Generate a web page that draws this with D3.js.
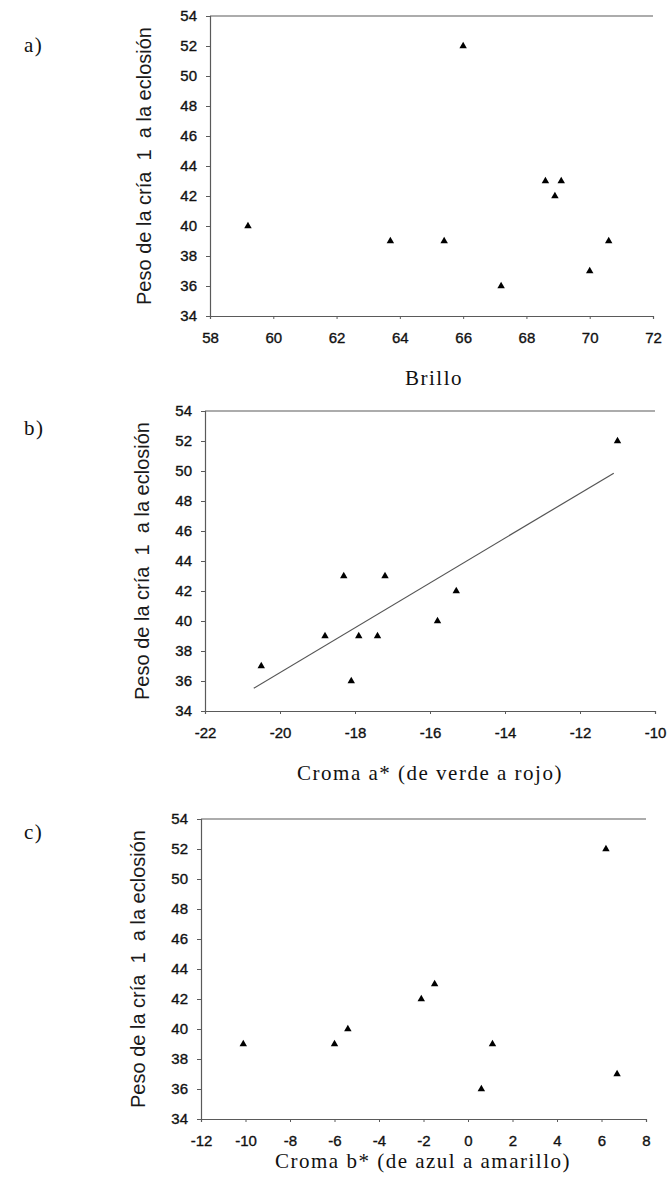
<!DOCTYPE html>
<html>
<head>
<meta charset="utf-8">
<script src="https://cdn.jsdelivr.net/npm/d3@7"></script>
<style>
  html, body { margin: 0; padding: 0; background: #fff; }
  svg { display: block; }
</style>
</head>
<body>
<script>
// ---------- data ----------
const yTicks = [34, 36, 38, 40, 42, 44, 46, 48, 50, 52, 54];

const aTicks = [58, 60, 62, 64, 66, 68, 70, 72];
const aX = [59.2, 63.7, 65.4, 66.0, 67.2, 68.6, 69.1, 68.9, 70.0, 70.6];
const aY = [40, 39, 39, 52, 36, 43, 43, 42, 37, 39];

const bTicks = [-22, -20, -18, -16, -14, -12, -10];
const bX = [-20.5, -18.8, -18.3, -18.1, -17.9, -17.4, -17.2, -15.8, -15.3, -11.0];
const bY = [37, 39, 43, 36, 39, 39, 43, 40, 42, 52];
const bTrendRange = [-20.7, -11.1];

const cTicks = [-12, -10, -8, -6, -4, -2, 0, 2, 4, 6, 8];
const cX = [-10.1, -6.0, -5.4, -2.1, -1.5, 0.6, 1.1, 6.2, 6.7];
const cY = [39, 39, 40, 42, 43, 36, 39, 52, 37];

const yTitle = "Peso de la cría  1  a la eclosión";

// ---------- layout ----------
const W = 667, H = 1195;
const svg = d3.select("body").append("svg").attr("width", W).attr("height", H);

const panels = [
  { tag: "a)", tagX: 24, tagY: 52, xs: aX, ys: aY, ticks: aTicks,
    x0: 210, x1: 653, yTop: 16, yBot: 316, title: "Brillo", titleX: 434, titleY: 385, yTitleX: 144 },
  { tag: "b)", tagX: 24, tagY: 435, xs: bX, ys: bY, ticks: bTicks,
    x0: 205, x1: 655, yTop: 411, yBot: 711, title: "Croma a* (de verde a rojo)", titleX: 430, titleY: 780, yTitleX: 142, trend: bTrendRange },
  { tag: "c)", tagX: 24, tagY: 839, xs: cX, ys: cY, ticks: cTicks,
    x0: 201, x1: 646, yTop: 819, yBot: 1119, title: "Croma b* (de azul a amarillo)", titleX: 423, titleY: 1168, yTitleX: 138 }
];

const axisColor = "#5a5a5a";
const sansFont = "'Liberation Sans', Arial, sans-serif";
const serifFont = "'Liberation Serif', 'Times New Roman', serif";

panels.forEach(p => {
  const x = d3.scaleLinear().domain(d3.extent(p.ticks)).range([p.x0, p.x1]);
  const y = d3.scaleLinear().domain(d3.extent(yTicks)).range([p.yBot, p.yTop]);
  const g = svg.append("g");

  // top border line
  g.append("line")
    .attr("x1", x(p.ticks[0])).attr("x2", x(p.ticks[p.ticks.length - 1]))
    .attr("y1", y(yTicks[yTicks.length - 1])).attr("y2", y(yTicks[yTicks.length - 1]))
    .attr("stroke", axisColor).attr("stroke-width", 1.2);

  // x axis
  const xa = g.append("g").attr("transform", `translate(0,${p.yBot})`)
    .call(d3.axisBottom(x).tickValues(p.ticks).tickSize(3).tickPadding(13)
      .tickFormat(d => String(d)));
  // y axis
  const ya = g.append("g").attr("transform", `translate(${p.x0},0)`)
    .call(d3.axisLeft(y).tickValues(yTicks).tickSize(4).tickPadding(9)
      .tickFormat(d => String(d)));

  [xa, ya].forEach(a => {
    a.select(".domain").attr("stroke", axisColor).attr("stroke-width", 1.2);
    a.selectAll(".tick line").attr("stroke", axisColor);
    a.selectAll("text").attr("font-family", sansFont).attr("font-size", 15)
      .attr("fill", "#111").attr("stroke", "#111").attr("stroke-width", 0.35);
  });

  // trend line
  if (p.trend) {
    const mx = d3.mean(p.xs), my = d3.mean(p.ys);
    const sxy = d3.sum(p.xs, (v, i) => (v - mx) * (p.ys[i] - my));
    const sxx = d3.sum(p.xs, v => (v - mx) * (v - mx));
    const slope = sxy / sxx, icpt = my - slope * mx;
    g.append("line")
      .attr("x1", x(p.trend[0])).attr("y1", y(icpt + slope * p.trend[0]))
      .attr("x2", x(p.trend[1])).attr("y2", y(icpt + slope * p.trend[1]))
      .attr("stroke", "#555").attr("stroke-width", 1.2);
  }

  // points
  g.selectAll("path.pt").data(p.xs.map((v, i) => [v, p.ys[i]]))
    .enter().append("path").attr("class", "pt")
    .attr("d", d3.symbol().type(d3.symbolTriangle).size(24))
    .attr("transform", d => `translate(${x(d[0])},${y(d[1])})`)
    .attr("fill", "#000");

  // panel tag
  svg.append("text").attr("x", p.tagX).attr("y", p.tagY)
    .attr("font-family", serifFont).attr("font-size", 21)
    .attr("letter-spacing", 1.5).attr("fill", "#111").text(p.tag);

  // x title
  svg.append("text").attr("x", p.titleX).attr("y", p.titleY)
    .attr("text-anchor", "middle")
    .attr("font-family", serifFont).attr("font-size", 21)
    .attr("letter-spacing", 1.5).attr("fill", "#111").text(p.title);

  // y title
  svg.append("text")
    .attr("transform", `translate(${p.yTitleX},${(p.yTop + p.yBot) / 2}) rotate(-90)`)
    .attr("text-anchor", "middle").attr("dy", "0.35em")
    .attr("font-family", sansFont).attr("font-size", 20)
    .style("white-space", "pre")
    .attr("fill", "#1a1a1a").text(yTitle);
});
</script>
</body>
</html>
